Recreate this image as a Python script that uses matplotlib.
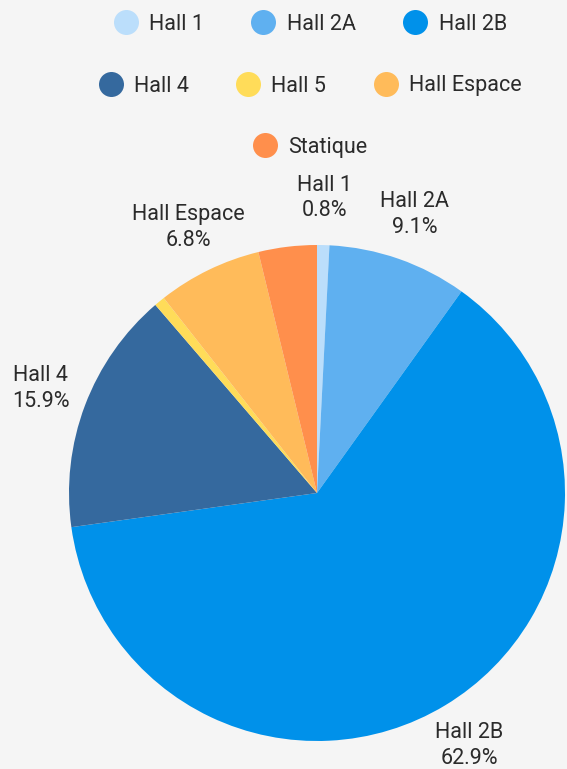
import matplotlib
matplotlib.use("Agg")
import matplotlib.pyplot as plt
from matplotlib.lines import Line2D

# data
names = ["Hall 1", "Hall 2A", "Hall 2B", "Hall 4", "Hall 5", "Hall Espace", "Statique"]
values = [0.8, 9.1, 62.9, 15.9, 0.7, 6.8, 3.8]
colors = ["#bbdefb", "#5fb0f0", "#0091ea", "#35699e", "#ffdc59", "#ffbb5a", "#ff8f4c"]
hidden_labels = ["Hall 5", "Statique"]
legend_rows = [["Hall 1", "Hall 2A", "Hall 2B"],
               ["Hall 4", "Hall 5", "Hall Espace"],
               ["Statique"]]

BG = "#f5f5f5"
TXT = "#2b2b2b"
FS = 15.5
plt.rcParams.update({"font.family": ["Roboto", "DejaVu Sans"]})

W, H = 567, 769
fig = plt.figure(figsize=(W / 100, H / 100), dpi=100, facecolor=BG)

# pie centre ~(317, 493) px, radius ~248 px
cx, cy, r = 317, 493, 248
ax = fig.add_axes([(cx - r) / W, (H - cy - r) / H, 2 * r / W, 2 * r / H])
ax.set_facecolor(BG)

labels = [f"{n}\n{v:.1f}%" if n not in hidden_labels else "" for n, v in zip(names, values)]
wedges, texts = ax.pie(values, colors=colors, startangle=90, counterclock=False,
                       labels=labels, labeldistance=1.19,
                       wedgeprops=dict(linewidth=0),
                       textprops=dict(fontsize=FS, color=TXT, linespacing=1.3))
for t in texts:
    t.set_ha("center")
    t.set_va("center")
    t.set_clip_on(False)
ax.set_xlim(-1, 1)
ax.set_ylim(-1, 1)
ax.set_aspect("equal")
ax.axis("off")

# legend: three centred rows (block centred slightly right of the middle)
cmap = dict(zip(names, colors))
row_y = [24, 86, 147]
for row, y in zip(legend_rows, row_y):
    handles = [Line2D([], [], marker="o", linestyle="", markersize=18,
                      markerfacecolor=cmap[n], markeredgewidth=0) for n in row]
    fig.legend(handles, row, loc="center", bbox_to_anchor=(310 / W, 1 - y / H),
               ncol=len(row), frameon=False, fontsize=FS, handlelength=1.15,
               handletextpad=0.5, columnspacing=2.2, labelcolor=TXT)

fig.savefig("out.png", dpi=100, facecolor=BG)
